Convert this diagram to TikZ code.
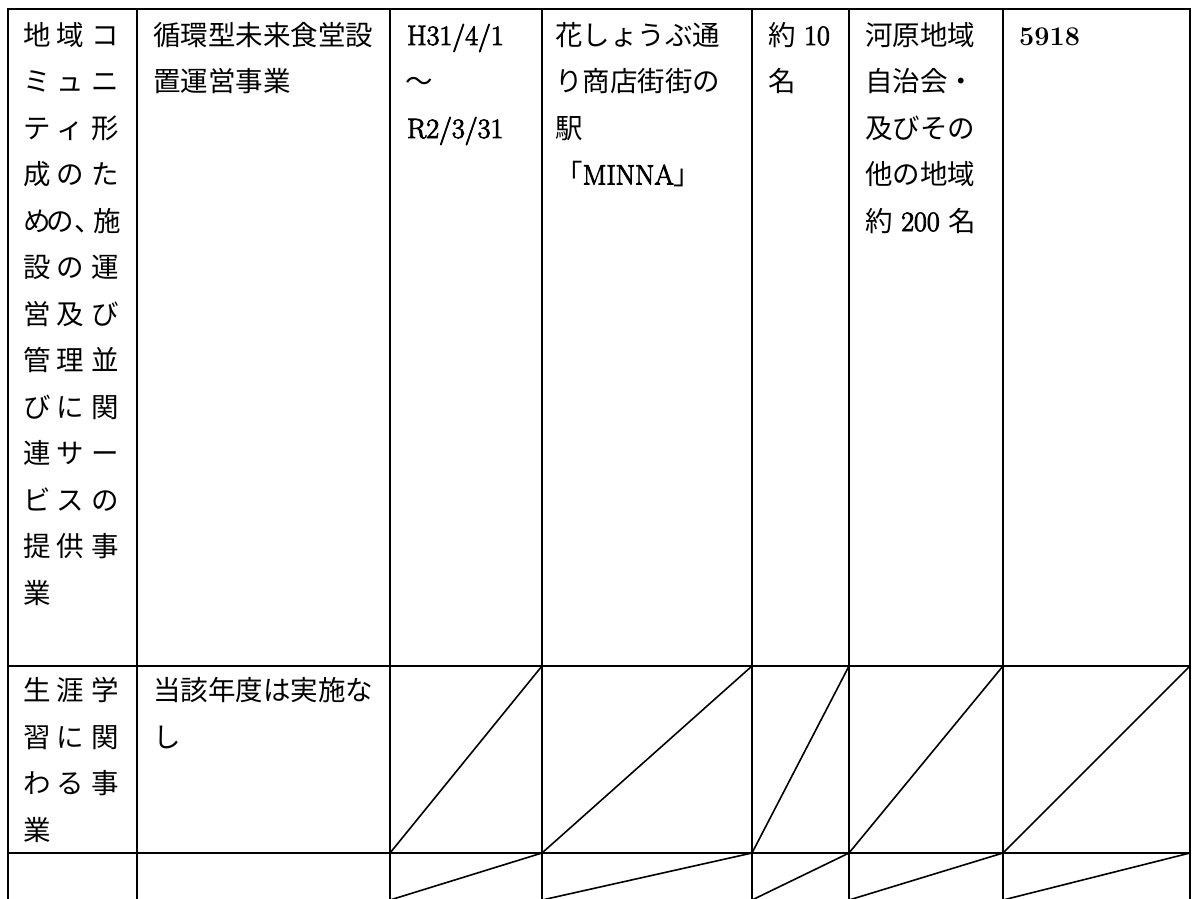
\documentclass[tikz,border=0pt]{standalone}
\usepackage{fontspec}
\newfontfamily\lat{Latin Modern Roman}[FakeBold=3]
\newfontfamily\jp{Noto Sans CJK JP}
\newcommand\jpsize{\fontsize{27.5}{46.5}\selectfont}
\newcommand\latsize{\fontsize{28}{46.5}\selectfont}
\tikzset{
  gridline/.style={line width=1.8pt, line cap=rect},
  diag/.style={line width=1.6pt},
  txt/.style={inner sep=0pt, anchor=base west, font=\lat\latsize},
  jtxt/.style={inner sep=0pt, anchor=base west, font=\jp\jpsize},
  ch/.style={inner sep=0pt, anchor=base, font=\jp\jpsize}
}
\begin{document}
\begin{tikzpicture}[x=1pt,y=-1pt]
\useasboundingbox (0,0) rectangle (1192,898);
\fill[white] (0,0) rectangle (1192,898);
\begin{scope}
\clip (0,0) rectangle (1192,898);
% grid
\draw[gridline] (8,9) -- (1190,9);
\draw[gridline] (8,666) -- (1190,666);
\draw[gridline] (8,853) -- (1190,853);
\foreach \x in {8,137,390,542,752,849,1003,1190}
  \draw[gridline] (\x,9) -- (\x,910);
% diagonals, row 2
\foreach \a/\b in {390/542,542/752,752/849,849/1003,1003/1190}
  \draw[diag] (\a,853) -- (\b,666);
% diagonals, row 3
\foreach \a/\b in {390/542,542/752,752/849,849/1003,1003/1190}
  \draw[diag] (\b,853) -- (\a,900);
\end{scope}
% column 1, row 1
\node[ch] (c1a) at (37,45) {地};   \node[ch] (c1b) at (70,45) {域};   \node[ch] (c1c) at (105,45) {コ};
\node[ch] (c2a) at (37,91.5) {ミ}; \node[ch] (c2b) at (70,91.5) {ュ}; \node[ch] (c2c) at (105,91.5) {ニ};
\node[ch] (c3a) at (37,138) {テ};  \node[ch] (c3b) at (70,138) {ィ};  \node[ch] (c3c) at (105,138) {形};
\node[ch] (c4a) at (37,184.5) {成};\node[ch] (c4b) at (70,184.5) {の};\node[ch] (c4c) at (105,184.5) {た};
\node[ch] (c5a) at (37,231) {め};  \node[ch] (c5b) at (60,231) {の};  \node[ch] (c5c) at (88,231) {、}; \node[ch] (c5d) at (107,231) {施};
\node[ch] (c6a) at (37,277.5) {設};\node[ch] (c6b) at (70,277.5) {の};\node[ch] (c6c) at (105,277.5) {運};
\node[ch] (c7a) at (37,324) {営};  \node[ch] (c7b) at (70,324) {及};  \node[ch] (c7c) at (105,324) {び};
\node[ch] (c8a) at (37,370.5) {管};\node[ch] (c8b) at (70,370.5) {理};\node[ch] (c8c) at (105,370.5) {並};
\node[ch] (c9a) at (37,417) {び};  \node[ch] (c9b) at (70,417) {に};  \node[ch] (c9c) at (105,417) {関};
\node[ch] (c10a) at (37,463.5) {連};\node[ch] (c10b) at (70,463.5) {サ};\node[ch] (c10c) at (105,463.5) {ー};
\node[ch] (c11a) at (37,510) {ビ}; \node[ch] (c11b) at (70,510) {ス}; \node[ch] (c11c) at (105,510) {の};
\node[ch] (c12a) at (37,556.5) {提};\node[ch] (c12b) at (70,556.5) {供};\node[ch] (c12c) at (105,556.5) {事};
\node[ch] (c13a) at (37,603) {業};
% column 1, row 2
\node[ch] (d1a) at (37,700.5) {生};\node[ch] (d1b) at (70,700.5) {涯};\node[ch] (d1c) at (105,700.5) {学};
\node[ch] (d2a) at (37,747) {習};  \node[ch] (d2b) at (70,747) {に};  \node[ch] (d2c) at (105,747) {関};
\node[ch] (d3a) at (37,793.5) {わ};\node[ch] (d3b) at (70,793.5) {る};\node[ch] (d3c) at (105,793.5) {事};
\node[ch] (d4a) at (37,840) {業};
% column 2
\node[jtxt] (b1) at (153,45) {循環型未来食堂設};
\node[jtxt] (b2) at (153,91.5) {置運営事業};
\node[jtxt] (e1) at (153,700.5) {当該年度は実施な};
\node[jtxt] (e2) at (153,747) {し};
% column 3
\node[txt] (p1) at (407,45) {H31/4/1};
\node[jtxt] (p2) at (405,91.5) {～};
\node[txt] (p3) at (407,138) {R2/3/31};
% column 4
\node[jtxt] (q1) at (555,45) {花しょうぶ通};
\node[jtxt] (q2) at (555,91.5) {り商店街街の};
\node[jtxt] (q3) at (555,138) {駅};
\node[txt] (q4) at (555,184.5) {{\jp\jpsize 「}MINNA{\jp\jpsize 」}};
% column 5
\node[txt] (r1) at (768,45) {{\jp\jpsize 約}\ 10};
\node[jtxt] (r2) at (768,91.5) {名};
% column 6
\node[jtxt] (s1) at (865,45) {河原地域};
\node[jtxt] (s2) at (865,91.5) {自治会・};
\node[jtxt] (s3) at (865,138) {及びその};
\node[jtxt] (s4) at (865,184.5) {他の地域};
\node[txt] (s5) at (865,231) {{\jp\jpsize 約}\ 200\ {\jp\jpsize 名}};
% column 7
\node[inner sep=0pt, anchor=base west, font=\fontsize{27}{46.5}\selectfont\bfseries] (t1) at (1019,45) {5918};
\end{tikzpicture}
\end{document}
